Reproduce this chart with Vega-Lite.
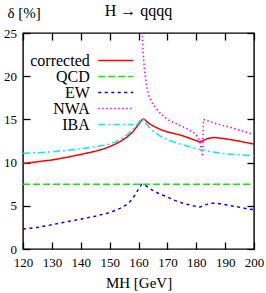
{
  "$schema": "https://vega.github.io/schema/vega-lite/v6.json",
  "width": 231,
  "height": 216,
  "autosize": {"type": "none"},
  "padding": {"left": 23, "top": 33, "right": 12, "bottom": 44},
  "title": {"text": "H → qqqq", "font": "Liberation Serif", "fontSize": 16, "fontWeight": "normal", "anchor": "middle", "frame": "group", "baseline": "alphabetic", "offset": -26.5, "color": "black"},
  "config": {
    "view": {"stroke": "black", "strokeWidth": 1.4},
    "axis": {"labelFont": "Liberation Serif", "labelFontSize": 13, "labelColor": "black", "labelFlush": false, "labelOverlap": false, "titleFont": "Liberation Serif", "titleFontSize": 15, "titleFontWeight": "normal", "titleColor": "black", "tickColor": "black", "tickSize": -7, "tickWidth": 1.3, "domain": false, "grid": false}
  },
  "data": {"values": [
    {"s": "corrected", "M": 120, "d": 9.9}, {"s": "corrected", "M": 125, "d": 10.1}, {"s": "corrected", "M": 130, "d": 10.3}, {"s": "corrected", "M": 135, "d": 10.6}, {"s": "corrected", "M": 140, "d": 10.95}, {"s": "corrected", "M": 145, "d": 11.3}, {"s": "corrected", "M": 148, "d": 11.6}, {"s": "corrected", "M": 150, "d": 11.85}, {"s": "corrected", "M": 152, "d": 12.15}, {"s": "corrected", "M": 154, "d": 12.5}, {"s": "corrected", "M": 156, "d": 12.95}, {"s": "corrected", "M": 158, "d": 13.55}, {"s": "corrected", "M": 159.5, "d": 14.2}, {"s": "corrected", "M": 160.5, "d": 14.65}, {"s": "corrected", "M": 161.2, "d": 14.95}, {"s": "corrected", "M": 161.7, "d": 15.05}, {"s": "corrected", "M": 162.3, "d": 14.95}, {"s": "corrected", "M": 163, "d": 14.7}, {"s": "corrected", "M": 164, "d": 14.45}, {"s": "corrected", "M": 165, "d": 14.25}, {"s": "corrected", "M": 167.4, "d": 13.85}, {"s": "corrected", "M": 170, "d": 13.55}, {"s": "corrected", "M": 172.5, "d": 13.35}, {"s": "corrected", "M": 174.4, "d": 13.2}, {"s": "corrected", "M": 177, "d": 12.9}, {"s": "corrected", "M": 179, "d": 12.65}, {"s": "corrected", "M": 181.2, "d": 12.4}, {"s": "corrected", "M": 182.5, "d": 12.55}, {"s": "corrected", "M": 184, "d": 12.8}, {"s": "corrected", "M": 186, "d": 12.9}, {"s": "corrected", "M": 188, "d": 12.85}, {"s": "corrected", "M": 190, "d": 12.75}, {"s": "corrected", "M": 193, "d": 12.6}, {"s": "corrected", "M": 196, "d": 12.4}, {"s": "corrected", "M": 200, "d": 12.15},
    {"s": "QCD", "M": 120, "d": 7.5}, {"s": "QCD", "M": 140, "d": 7.5}, {"s": "QCD", "M": 160, "d": 7.5}, {"s": "QCD", "M": 180, "d": 7.5}, {"s": "QCD", "M": 200, "d": 7.5},
    {"s": "EW", "M": 120, "d": 2.3}, {"s": "EW", "M": 125, "d": 2.5}, {"s": "EW", "M": 130, "d": 2.8}, {"s": "EW", "M": 135, "d": 3.15}, {"s": "EW", "M": 140, "d": 3.45}, {"s": "EW", "M": 145, "d": 3.8}, {"s": "EW", "M": 150, "d": 4.2}, {"s": "EW", "M": 153.6, "d": 4.7}, {"s": "EW", "M": 155.5, "d": 5.05}, {"s": "EW", "M": 157.1, "d": 5.5}, {"s": "EW", "M": 158.5, "d": 6.1}, {"s": "EW", "M": 159.4, "d": 6.6}, {"s": "EW", "M": 160.3, "d": 7.1}, {"s": "EW", "M": 161.1, "d": 7.5}, {"s": "EW", "M": 162, "d": 7.45}, {"s": "EW", "M": 163.5, "d": 7.1}, {"s": "EW", "M": 165.1, "d": 6.75}, {"s": "EW", "M": 167.4, "d": 6.35}, {"s": "EW", "M": 169.8, "d": 6.05}, {"s": "EW", "M": 172, "d": 5.7}, {"s": "EW", "M": 174.4, "d": 5.4}, {"s": "EW", "M": 176.5, "d": 5.2}, {"s": "EW", "M": 178.4, "d": 5.05}, {"s": "EW", "M": 180, "d": 4.92}, {"s": "EW", "M": 181.3, "d": 4.85}, {"s": "EW", "M": 183, "d": 5.1}, {"s": "EW", "M": 185.3, "d": 5.3}, {"s": "EW", "M": 188, "d": 5.25}, {"s": "EW", "M": 190.5, "d": 5.1}, {"s": "EW", "M": 194, "d": 4.9}, {"s": "EW", "M": 198, "d": 4.63}, {"s": "EW", "M": 200, "d": 4.55},
    {"s": "NWA", "M": 161.2, "d": 27}, {"s": "NWA", "M": 161.35, "d": 24.5}, {"s": "NWA", "M": 161.5, "d": 23.3}, {"s": "NWA", "M": 161.7, "d": 22.4}, {"s": "NWA", "M": 162, "d": 21.0}, {"s": "NWA", "M": 162.3, "d": 20.1}, {"s": "NWA", "M": 162.8, "d": 18.9}, {"s": "NWA", "M": 163.4, "d": 17.9}, {"s": "NWA", "M": 164.6, "d": 17.0}, {"s": "NWA", "M": 165.7, "d": 16.4}, {"s": "NWA", "M": 167, "d": 15.9}, {"s": "NWA", "M": 168, "d": 15.6}, {"s": "NWA", "M": 170, "d": 15.0}, {"s": "NWA", "M": 172, "d": 14.65}, {"s": "NWA", "M": 174.4, "d": 14.3}, {"s": "NWA", "M": 177, "d": 13.9}, {"s": "NWA", "M": 179, "d": 13.5}, {"s": "NWA", "M": 180.5, "d": 13.0}, {"s": "NWA", "M": 181.3, "d": 12.4}, {"s": "NWA", "M": 181.8, "d": 11.4}, {"s": "NWA", "M": 182.2, "d": 10.7}, {"s": "NWA", "M": 182.5, "d": 15.0}, {"s": "NWA", "M": 185, "d": 14.7}, {"s": "NWA", "M": 188, "d": 14.4}, {"s": "NWA", "M": 191.7, "d": 14.1}, {"s": "NWA", "M": 195, "d": 13.75}, {"s": "NWA", "M": 200, "d": 13.25},
    {"s": "IBA", "M": 120, "d": 11.07}, {"s": "IBA", "M": 125, "d": 11.15}, {"s": "IBA", "M": 130, "d": 11.25}, {"s": "IBA", "M": 135, "d": 11.4}, {"s": "IBA", "M": 140, "d": 11.6}, {"s": "IBA", "M": 145, "d": 11.85}, {"s": "IBA", "M": 148, "d": 12.0}, {"s": "IBA", "M": 150, "d": 12.15}, {"s": "IBA", "M": 152, "d": 12.4}, {"s": "IBA", "M": 154, "d": 12.75}, {"s": "IBA", "M": 156, "d": 13.2}, {"s": "IBA", "M": 158, "d": 13.8}, {"s": "IBA", "M": 159.5, "d": 14.4}, {"s": "IBA", "M": 160.5, "d": 14.85}, {"s": "IBA", "M": 161.1, "d": 15.1}, {"s": "IBA", "M": 161.7, "d": 15.0}, {"s": "IBA", "M": 162.5, "d": 14.6}, {"s": "IBA", "M": 163.5, "d": 14.15}, {"s": "IBA", "M": 165, "d": 13.65}, {"s": "IBA", "M": 167.4, "d": 13.1}, {"s": "IBA", "M": 170, "d": 12.65}, {"s": "IBA", "M": 172, "d": 12.4}, {"s": "IBA", "M": 174.4, "d": 12.15}, {"s": "IBA", "M": 177, "d": 11.9}, {"s": "IBA", "M": 179, "d": 11.7}, {"s": "IBA", "M": 181.3, "d": 11.5}, {"s": "IBA", "M": 183, "d": 11.4}, {"s": "IBA", "M": 185, "d": 11.25}, {"s": "IBA", "M": 188, "d": 11.1}, {"s": "IBA", "M": 191, "d": 11.0}, {"s": "IBA", "M": 195, "d": 10.9}, {"s": "IBA", "M": 200, "d": 10.8}
  ]},
  "layer": [
    {
      "mark": {"type": "line", "strokeWidth": 1.5, "clip": true},
      "encoding": {
        "x": {"field": "M", "type": "quantitative", "scale": {"domain": [120, 200], "nice": false, "zero": false},
              "axis": {"orient": "bottom", "values": [120, 130, 140, 150, 160, 170, 180, 190, 200], "title": "MH [GeV]", "labelPadding": 14, "titleY": 38, "titleBaseline": "alphabetic"}},
        "y": {"field": "d", "type": "quantitative", "scale": {"domain": [0, 25], "nice": false},
              "axis": {"orient": "left", "values": [0, 5, 10, 15, 20, 25], "title": "δ [%]", "titleAngle": 0, "titleAlign": "left", "titleBaseline": "middle", "titleX": -16, "titleY": -21, "labelPadding": 13.5}},
        "color": {"field": "s", "type": "nominal",
                  "scale": {"domain": ["corrected", "QCD", "EW", "NWA", "IBA"], "range": ["#ff0000", "#00ee00", "#0000ff", "#ff00ff", "#00eeee"]},
                  "legend": {"orient": "none", "legendX": 84.75, "legendY": 19.5, "title": null, "symbolType": "M-3.5,0H3.5", "symbolSize": 100, "symbolStrokeWidth": 1.5, "labelFont": "Liberation Serif", "labelFontSize": 16, "labelColor": "black", "labelAlign": "right", "labelOffset": -34, "rowPadding": -2.7, "padding": 0}},
        "strokeDash": {"field": "s", "type": "nominal",
                       "scale": {"domain": ["corrected", "QCD", "EW", "NWA", "IBA"], "range": [[1, 0], [7, 3], [3, 3.5], [1.5, 2.5], [7, 3, 2, 3]]}}
      }
    },
    {
      "mark": {"type": "point", "opacity": 0},
      "encoding": {
        "x": {"field": "M", "type": "quantitative", "axis": {"orient": "top", "labels": false, "title": null, "values": [120, 130, 140, 150, 160, 170, 180, 190, 200]}},
        "y": {"field": "d", "type": "quantitative", "axis": {"orient": "right", "labels": false, "title": null, "values": [0, 5, 10, 15, 20, 25]}}
      }
    }
  ],
  "resolve": {"axis": {"x": "independent", "y": "independent"}}
}
